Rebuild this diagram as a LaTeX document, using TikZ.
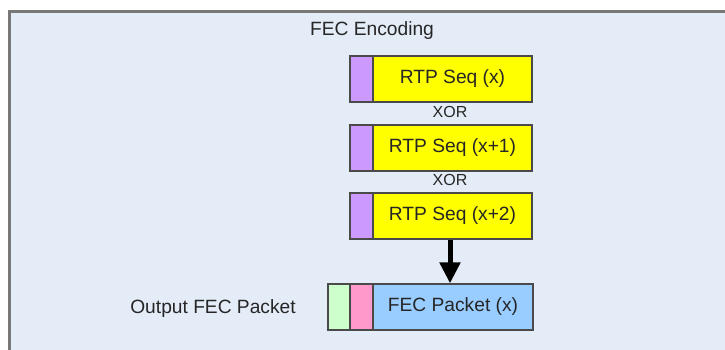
\documentclass[tikz,border=0pt]{standalone}
\usepackage{fontspec}
\setmainfont{Liberation Sans}
\usetikzlibrary{arrows.meta}
\definecolor{bgfill}{HTML}{E4ECF7}
\definecolor{frameline}{HTML}{787878}
\definecolor{boxline}{HTML}{4A4A4A}
\definecolor{txt}{HTML}{262626}
\definecolor{ylw}{HTML}{FFFF00}
\definecolor{prp}{HTML}{CC99FF}
\definecolor{grn}{HTML}{CCFFCC}
\definecolor{pnk}{HTML}{FF99CC}
\definecolor{blu}{HTML}{99CCFF}
\begin{document}
\begin{tikzpicture}[x=1pt,y=-1pt,
  every node/.style={text=txt,font=\fontsize{19.2}{22}\selectfont},
  cell/.style={draw=boxline,line width=1.3pt,rectangle,inner sep=0pt,minimum height=46pt},
  xorlbl/.style={font=\fontsize{16}{18}\selectfont,inner sep=0pt},
  bigarrow/.style={line width=5pt,-{Triangle[width=20pt,length=21pt]}}]
\useasboundingbox (0,0) rectangle (725,349);
\fill[white] (0,0) rectangle (725,349);
\draw[frameline,line width=2.2pt,fill=bgfill] (9.5,11.5) rectangle (740,360);
\node (title) at (372,30.5) {FEC Encoding};
% packet 1
\node[cell,fill=prp,minimum width=23pt] (p1) at (361.5,79) {};
\node[cell,fill=ylw,minimum width=159pt] (y1) at (452.5,79) {RTP Seq (x)};
\node[xorlbl] (x1) at (450,112) {XOR};
% packet 2
\node[cell,fill=prp,minimum width=23pt] (p2) at (361.5,148) {};
\node[cell,fill=ylw,minimum width=159pt] (y2) at (452.5,148) {RTP Seq (x+1)};
\node[xorlbl] (x2) at (450,180) {XOR};
% packet 3
\node[cell,fill=prp,minimum width=23pt] (p3) at (361.5,216) {};
\node[cell,fill=ylw,minimum width=159pt] (y3) at (452.5,216) {RTP Seq (x+2)};
% FEC packet
\node[cell,fill=grn,minimum width=22pt] (g) at (339,307) {};
\node[cell,fill=pnk,minimum width=23pt] (k) at (361.5,307) {};
\node[cell,fill=blu,minimum width=160pt] (fb) at (453,307) {FEC Packet (x)};
\node (out) at (213,308.5) {Output FEC Packet};
\draw[bigarrow] ([xshift=-2.5pt]y3.south) -- ([xshift=-2.5pt]y3.south |- fb.north);
\end{tikzpicture}
\end{document}
